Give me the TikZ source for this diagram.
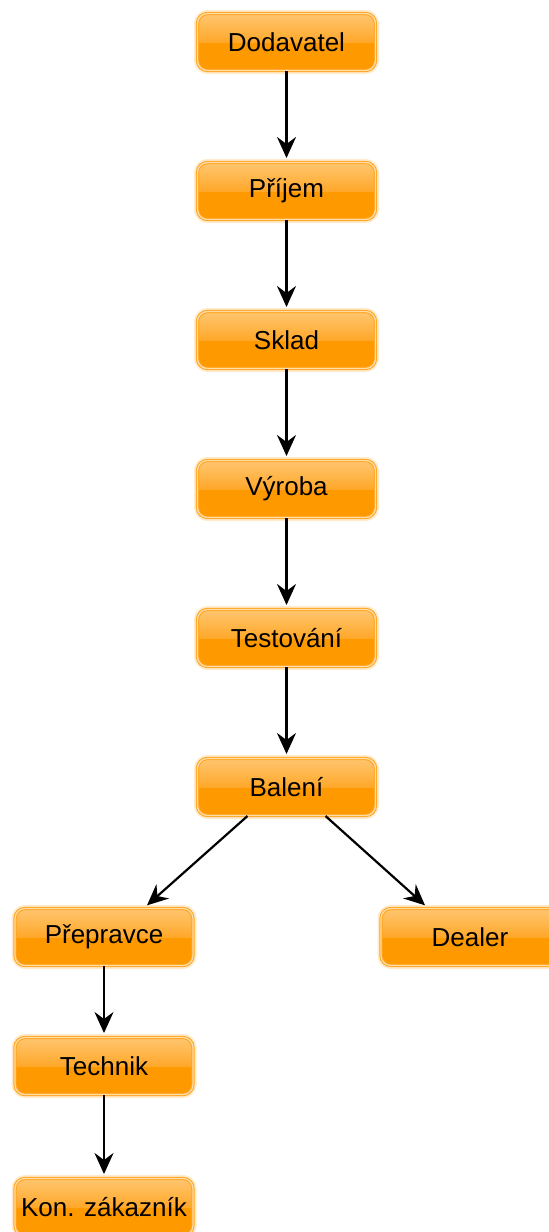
\documentclass[tikz,border=0pt]{standalone}
\usepackage{fontspec}
\setmainfont{Liberation Sans}
\usetikzlibrary{arrows.meta}

\definecolor{boxbody}{HTML}{FF9900}
\definecolor{boxtop}{HTML}{FFC670}
\definecolor{boxmid}{HTML}{FFA82A}
\definecolor{boxedge}{HTML}{FFA41F}
\definecolor{boxpale}{HTML}{FFDDA8}
\definecolor{boxglow}{HTML}{FFD28C}

\tikzset{
  flowbox/.style={
    rounded corners=10pt, minimum width=178pt, minimum height=57pt, inner sep=0pt,
    font=\fontsize{26}{30}\selectfont, text=black,
    preaction={draw=boxglow, line width=7pt, opacity=0.45},
    draw=boxedge, line width=1pt, double=boxpale, double distance=1.3pt,
    path picture={
      \fill[boxbody, sharp corners] (path picture bounding box.south west) rectangle (path picture bounding box.east);
      \shade[top color=boxtop, bottom color=boxmid, sharp corners] (path picture bounding box.north west) rectangle (path picture bounding box.east);
    }},
  flowarrow/.style={-{Stealth[length=21pt,width=19pt,inset=7pt]}, line width=2.2pt, black,
    shorten >=4pt}
}

\begin{document}
\begin{tikzpicture}[x=1pt, y=-1pt]
  \useasboundingbox (0,0) rectangle (549,1232);

  % main column
  \node[flowbox] (dod) at (286.5,42)  {Dodavatel};
  \node[flowbox] (pri) at (286.5,191) {Příjem};
  \node[flowbox] (skl) at (286.5,340) {Sklad};
  \node[flowbox] (vyr) at (286.5,489) {Výroba};
  \node[flowbox] (tes) at (286.5,638) {Testování};
  \node[flowbox] (bal) at (286.5,787) {Balení};

  % branches
  \node[flowbox] (pre) at (104,937)   {Přepravce};
  \node[flowbox] (dea) at (470,937)   {Dealer};
  \node[flowbox] (tec) at (104,1066)  {Technik};
  \node[flowbox] (kon) at (104,1207)  {Kon. zákazník};

  % connectors
  \draw[flowarrow] (dod) -- (pri);
  \draw[flowarrow] (pri) -- (skl);
  \draw[flowarrow] (skl) -- (vyr);
  \draw[flowarrow] (vyr) -- (tes);
  \draw[flowarrow] (tes) -- (bal);
  \draw[flowarrow] ([xshift=-39pt]bal.south) -- ([xshift=40pt]pre.north);
  \draw[flowarrow] ([xshift=39pt]bal.south) -- ([xshift=-42pt]dea.north);
  \draw[flowarrow] (pre) -- (tec);
  \draw[flowarrow] (tec) -- (kon);
\end{tikzpicture}
\end{document}
